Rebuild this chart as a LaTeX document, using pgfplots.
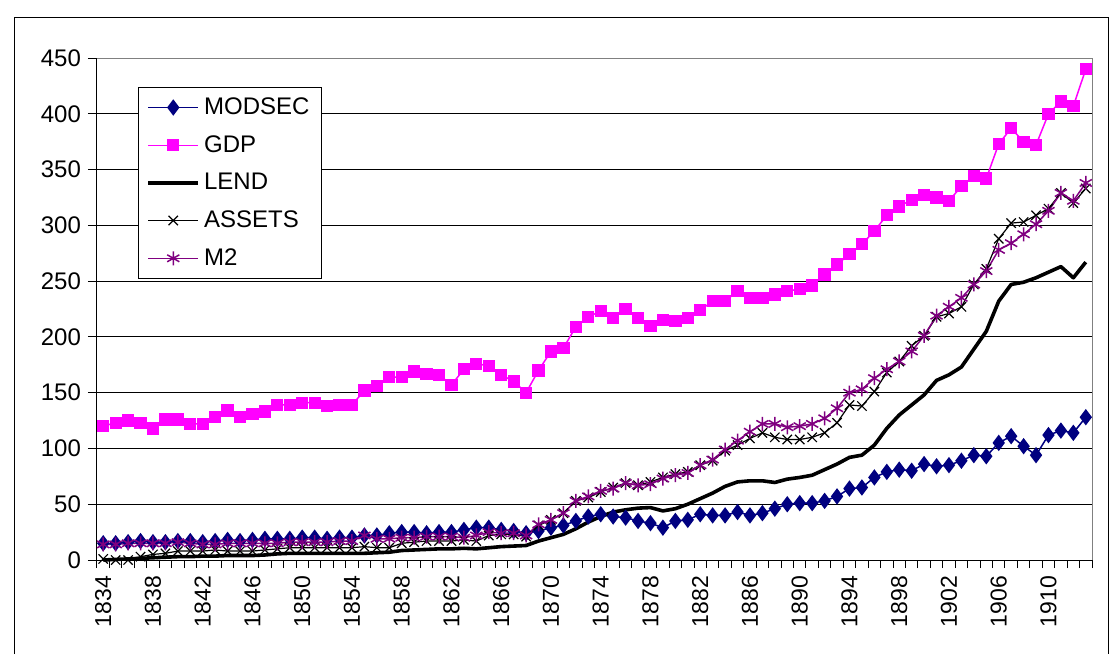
\documentclass[border=0pt]{standalone}
\usepackage{fontspec}
\setmainfont{Liberation Sans}
\usepackage{pgfplots}
\usepackage{pgfplotstable}
\pgfplotsset{compat=1.18}
\definecolor{navyc}{HTML}{000080}
\definecolor{magc}{HTML}{FF00FF}
\definecolor{purc}{HTML}{800080}

% x = year - 1834
\pgfplotstableread{
x modsec gdp lend assets mtwo
0 15 120 0 1 14
1 15 123 0.5 0 14
2 16 125 1 0 15
3 17 123 1.5 3 15
4 16 118 2 5 15
5 16 126 2.5 6 15
6 17 126 3 8 16
7 17 122 3 8 15
8 16 122 3.5 8 14
9 17 128 3.5 9 14
10 18 134 4 8 15
11 17 128 4 8 15
12 18 131 4 8 15
13 19 133 4.5 9 15
14 19 139 5.5 10 15
15 19 139 6 11 16
16 20 141 6 11 16
17 20 141 6 11 16
18 19 138 6 11 16
19 20 139 6 11 17
20 20 139 6 11 17
21 22 152 6 12 22
22 22 156 6.5 11 19
23 24 164 7 11 19
24 25 164 8.5 15 20
25 25 169 9 16 20
26 24 167 9.5 17 21
27 25 166 10 17 21
28 25 157 10 17 21
29 27 171 10.5 18 20
30 29 176 10 17 22
31 29 174 11 22 25
32 27 166 12 23 24
33 26 160 12.5 23 24
34 24 150 13 21 22
35 26 170 17 31 32
36 29 187 20 36 36
37 31 190 23 42 42
38 35 209 28 53 53
39 39 218 34 56 57
40 41 223 39 61 62
41 39 217 43 65 64
42 38 225 45 69 69
43 35 217 46.5 67 67
44 33 210 47 70 68
45 29 215 44 74 73
46 35 214 46 77 76
47 36 217 50 79 78
48 41 224 55 85 85
49 40 232 60 89 90
50 40 232 66 98 99
51 43 241 70 103 107
52 40 235 71 109 115
53 42 235 71 114 122
54 46 238 69.5 110 122
55 50 241 72.5 108 119
56 51 243 74 108 120
57 51 246 76 110 122
58 53 256 81 114 127
59 57 265 86 123 136
60 64 274 92 139 150
61 65 283 94 138 153
62 74 295 103 151 163
63 79 309 118 168 171
64 81 317 130 178 178
65 80 323 139 192 187
66 86 327 148 201 201
67 84 325 161 218 219
68 85 322 166 221 227
69 89 335 173 227 235
70 94 344 189 247 247
71 93 342 205 261 259
72 105 373 232 288 278
73 111 387 247 302 284
74 102 375 249 303 292
75 94 372 253 309 301
76 112 400 258 315 313
77 116 411 263 329 329
78 114 407 253 320 322
79 128 440 267 333 338
}\datatable

\begin{document}
\begin{tikzpicture}
\begin{axis}[
  scale only axis,
  width=497.5pt, height=251pt,
  xmin=-0.5, xmax=79.5, ymin=0, ymax=450,
  clip=false,
  axis x line*=bottom, axis y line*=left,
  axis line style={black, line width=0.5pt},
  ytick={0,50,...,450},
  ymajorgrids,
  grid style={black, line width=0.4pt},
  xtick={0,4,...,76},
  xticklabels={1834,1838,1842,1846,1850,1854,1858,1862,1866,1870,1874,1878,1882,1886,1890,1894,1898,1902,1906,1910},
  minor xtick={-0.5,0.5,...,79.5},
  tick align=outside,
  major tick length=4.5pt,
  minor tick length=4pt,
  every major x tick/.append style={draw=none},
  every minor tick/.append style={black, line width=0.5pt},
  every major tick/.append style={black, line width=0.5pt},
  /pgf/number format/assume math mode=true,
  xticklabel style={rotate=90, anchor=east, font=\fontsize{11.5}{13}\selectfont},
  yticklabel style={font=\fontsize{12}{14}\selectfont},
  legend style={at={(0.0412,0.942)}, anchor=north west, draw=black, fill=white,
    font=\fontsize{12}{14}\selectfont, row sep=5pt, inner xsep=4pt, inner ysep=3pt,
    cells={anchor=west}, line width=0.5pt},
  legend image code/.code={\draw[mark repeat=2,mark phase=2,#1] plot coordinates {(0pt,0pt)(12.5pt,0pt)(25pt,0pt)};},
]
\addplot[color=navyc, line width=0.75pt, mark=diamond*, mark size=3.5pt, mark options={solid, fill=navyc}] table[x=x,y=modsec]{\datatable};
\addlegendentry{MODSEC}
\addplot[color=magc, line width=0.75pt, mark=square*, mark size=2.7pt, mark options={solid, fill=magc}] table[x=x,y=gdp]{\datatable};
\addlegendentry{GDP}
\addplot[color=black, line width=1.8pt, no marks, line join=round] table[x=x,y=lend]{\datatable};
\addlegendentry{LEND}
\addplot[color=black, line width=0.6pt, mark=x, mark size=3.3pt, mark options={solid}] table[x=x,y=assets]{\datatable};
\addlegendentry{ASSETS}
\addplot[color=purc, line width=0.75pt, mark=asterisk, mark size=3.5pt, mark options={solid}] table[x=x,y=mtwo]{\datatable};
\addlegendentry{M2}
\draw[gray, line width=0.5pt] (rel axis cs:0,1) -- (rel axis cs:1,1) -- (rel axis cs:1,0);
\end{axis}
\draw[black, line width=0.5pt] (-41pt,-47pt) -- (-41pt,271pt) -- (505.5pt,271pt) -- (505.5pt,-47pt);
\pgfresetboundingbox
\path (-48.5pt,-47pt) rectangle (507.5pt,280pt);
\end{tikzpicture}
\end{document}
